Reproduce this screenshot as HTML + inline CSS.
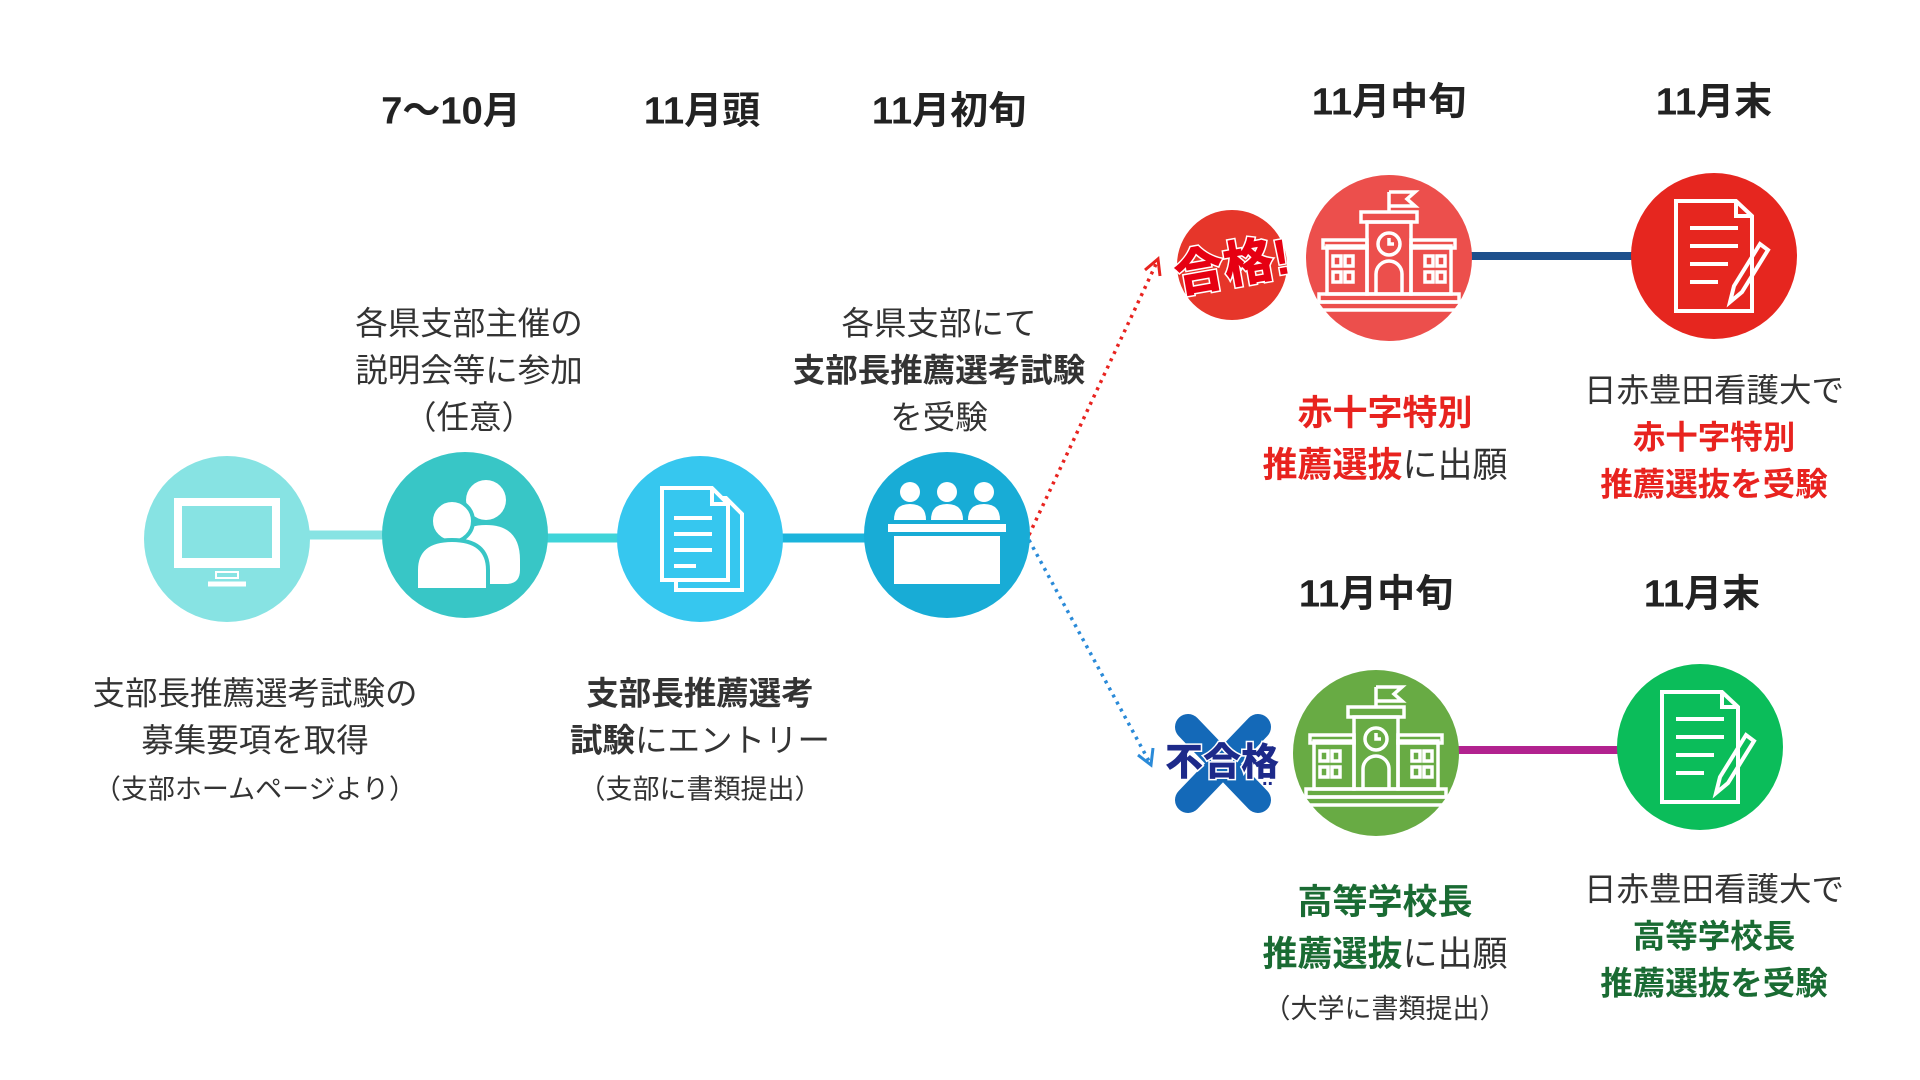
<!DOCTYPE html>
<html><head><meta charset="utf-8"><style>
html,body{margin:0;padding:0;background:#fff;}
body{width:1920px;height:1080px;position:relative;overflow:hidden;font-family:"Liberation Sans","Noto Sans CJK JP",sans-serif;color:#333;}
.t{position:absolute;transform:translate(-50%,-50%);white-space:nowrap;text-align:center;}
.h{font-weight:bold;font-size:38px;color:#222;}
.l{font-size:32.5px;line-height:47px;}
.s{font-size:27px;}
.b{font-weight:bold;}
.r{color:#e8231f;font-weight:bold;}
.g{color:#1a6b33;font-weight:bold;}
svg{position:absolute;left:0;top:0;}
</style></head><body>
<svg width="1920" height="1080" viewBox="0 0 1920 1080">
<defs>
<g id="school" fill="none" stroke="#fff" stroke-width="3.5">
<path d="M0 -70 L0 -50 M0 -70 L26 -70 L18 -63 L26 -56 L0 -56"/>
<rect x="-28" y="-50" width="56" height="10"/>
<rect x="-22" y="-40" width="44" height="72"/>
<circle cx="0" cy="-18" r="11"/><path d="M0 -24 V-18 H5"/>
<rect x="-62" y="-16" width="40" height="48"/><rect x="22" y="-16" width="40" height="48"/>
<rect x="-66" y="-22" width="44" height="8"/><rect x="22" y="-22" width="44" height="8"/>
<path d="M-13 32 V12 A13 13 0 0 1 13 12 V32"/>
<rect x="-56" y="-6" width="8" height="10"/><rect x="-44" y="-6" width="8" height="10"/>
<rect x="-56" y="10" width="8" height="10"/><rect x="-44" y="10" width="8" height="10"/>
<rect x="36" y="-6" width="8" height="10"/><rect x="48" y="-6" width="8" height="10"/>
<rect x="36" y="10" width="8" height="10"/><rect x="48" y="10" width="8" height="10"/>
<rect x="-70" y="32" width="140" height="8"/><rect x="-76" y="40" width="152" height="8"/>
</g>
<g id="doc" fill="none" stroke="#fff" stroke-width="4">
<path d="M-38 -55 H22 L38 -40 V55 H-38 Z"/><path d="M22 -55 V-40 H38"/>
<path d="M-24 -28 H24 M-24 -10 H24 M-24 8 H14 M-24 26 H4"/>
<path d="M46 -12 L20 30 L16 46 L28 36 L54 -6 Z" fill="none"/>
</g>
</defs>
<line x1="227" y1="535" x2="465" y2="535" stroke="#87e3e3" stroke-width="9"/>
<line x1="465" y1="538" x2="700" y2="538" stroke="#3fd4d9" stroke-width="9"/>
<line x1="700" y1="538" x2="947" y2="538" stroke="#1bb4dc" stroke-width="9"/>
<line x1="1389" y1="256" x2="1714" y2="256" stroke="#1e508c" stroke-width="8"/>
<line x1="1376" y1="750" x2="1700" y2="750" stroke="#b2228f" stroke-width="8"/>
<path d="M1029 535 L1157 262" stroke="#e8231f" stroke-width="3.5" stroke-dasharray="3 5" fill="none"/>
<path d="M1145 270 L1158 259 L1160 276" stroke="#e8231f" stroke-width="3" fill="none"/>
<path d="M1029 540 L1150 763" stroke="#2a8ad8" stroke-width="3.5" stroke-dasharray="3 5" fill="none"/>
<path d="M1138 755 L1151 765 L1153 748" stroke="#2a8ad8" stroke-width="3" fill="none"/>
<circle cx="227" cy="539" r="83" fill="#87e3e3"/>
<circle cx="465" cy="535" r="83" fill="#38c6c6"/>
<circle cx="700" cy="539" r="83" fill="#36c7ef"/>
<circle cx="947" cy="535" r="83" fill="#18acd6"/>
<circle cx="1389" cy="258" r="83" fill="#ec4f4c"/>
<circle cx="1714" cy="256" r="83" fill="#e6261f"/>
<circle cx="1376" cy="753" r="83" fill="#68ab44"/>
<circle cx="1700" cy="747" r="83" fill="#0bbd5a"/>
<g fill="none" stroke="#fff" stroke-width="4">
<rect x="176" y="500" width="102" height="66" fill="#fff"/>
<rect x="182" y="506" width="90" height="52" fill="#87e3e3" stroke="none"/>
<rect x="216" y="572" width="22" height="6" stroke-width="2"/>
<path d="M208 584 H246" stroke-width="5"/>
</g>
<g fill="#fff">
<circle cx="486" cy="500" r="20"/><path d="M452 584 V560 Q452 525 486 525 Q520 525 520 560 V570 Q520 584 506 584 Z"/>
<circle cx="452" cy="521" r="21" stroke="#38c6c6" stroke-width="4"/>
<path d="M416 590 V570 Q416 540 452 540 Q488 540 488 570 V590 Z" stroke="#38c6c6" stroke-width="4"/>
</g>
<g fill="none" stroke="#fff" stroke-width="4">
<path d="M676 498 H726 L742 514 V590 H676 Z" fill="#36c7ef"/>
<path d="M662 488 H712 L728 504 V580 H662 Z" fill="#36c7ef"/>
<path d="M712 488 V504 H728"/>
<path d="M674 518 H712 M674 534 H712 M674 550 H712 M674 566 H696"/>
</g>
<g fill="#fff">
<circle cx="910" cy="492" r="10"/><path d="M894 520 Q894 504 910 504 Q926 504 926 520 Z"/>
<circle cx="947" cy="492" r="10"/><path d="M931 520 Q931 504 947 504 Q963 504 963 520 Z"/>
<circle cx="984" cy="492" r="10"/><path d="M968 520 Q968 504 984 504 Q1000 504 1000 520 Z"/>
<rect x="888" y="524" width="118" height="8"/>
<rect x="894" y="536" width="106" height="48"/>
</g>
<use href="#school" x="1389" y="262"/>
<use href="#school" x="1376" y="757"/>
<use href="#doc" x="1714" y="256"/>
<use href="#doc" x="1700" y="747"/>
<circle cx="1232" cy="265" r="55" fill="#e6362a"/>
<text x="1232" y="283" text-anchor="middle" font-family="Liberation Sans,Noto Sans CJK JP,sans-serif" font-weight="900" font-size="50" fill="#e60012" stroke="#fff" stroke-width="3" paint-order="stroke" transform="rotate(-10 1232 265)">合格!</text>
<g stroke="#1469b8" stroke-width="26" stroke-linecap="round">
<line x1="1188" y1="727" x2="1258" y2="800"/><line x1="1258" y1="727" x2="1188" y2="800"/>
</g>
<text x="1222" y="775" text-anchor="middle" font-family="Liberation Sans,Noto Sans CJK JP,sans-serif" font-weight="900" font-size="38" fill="#1d2a8a" stroke="#fff" stroke-width="3" paint-order="stroke">不合格</text>
<text x="1262" y="785" font-size="20" font-weight="900" fill="#1d2a8a">..</text>
</svg>
<div class="t h" style="left:451px;top:107px">7〜10月</div>
<div class="t h" style="left:702px;top:107px">11月頭</div>
<div class="t h" style="left:949px;top:107px">11月初旬</div>
<div class="t h" style="left:1389px;top:98px">11月中旬</div>
<div class="t h" style="left:1714px;top:98px">11月末</div>
<div class="t h" style="left:1376px;top:590px">11月中旬</div>
<div class="t h" style="left:1702px;top:590px">11月末</div>

<div class="t l" style="left:469px;top:371px">各県支部主催の<br>説明会等に参加<br>（任意）</div>
<div class="t l" style="left:939px;top:371px">各県支部にて<br><span class="b">支部長推薦選考試験</span><br>を受験</div>
<div class="t l" style="left:255px;top:742px">支部長推薦選考試験の<br>募集要項を取得<br><span class="s">（支部ホームページより）</span></div>
<div class="t l" style="left:700px;top:742px"><span class="b">支部長推薦選考</span><br><span class="b">試験</span>にエントリー<br><span class="s">（支部に書類提出）</span></div>
<div class="t l" style="left:1385px;top:440px;font-size:35px;line-height:52px"><span class="r">赤十字特別</span><br><span class="r">推薦選抜</span>に出願</div>
<div class="t l" style="left:1714px;top:438px">日赤豊田看護大で<br><span class="r">赤十字特別</span><br><span class="r">推薦選抜を受験</span></div>
<div class="t l" style="left:1385px;top:955px;font-size:35px;line-height:52px"><span class="g">高等学校長</span><br><span class="g">推薦選抜</span>に出願<br><span class="s" style="line-height:40px">（大学に書類提出）</span></div>
<div class="t l" style="left:1714px;top:937px">日赤豊田看護大で<br><span class="g">高等学校長</span><br><span class="g">推薦選抜を受験</span></div>
</body></html>
